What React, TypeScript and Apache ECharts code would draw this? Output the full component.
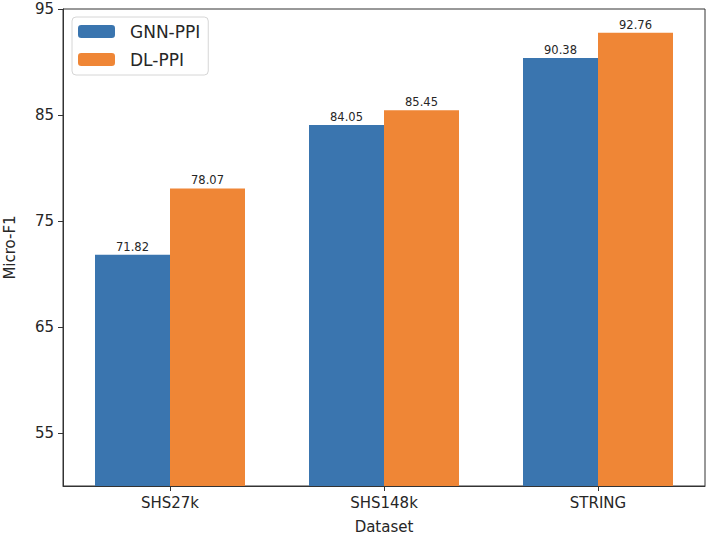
import React, { useEffect, useRef } from "react";
import * as echarts from "echarts";

const categories = ["SHS27k", "SHS148k", "STRING"];
const gnnPpi = [71.82, 84.05, 90.38];
const dlPpi = [78.07, 85.45, 92.76];
const yTicks = [55, 65, 75, 85, 95];

const FONT = "DejaVu Sans";
const TEXT = "#262626";

export default function App() {
  const ref = useRef<HTMLDivElement>(null);
  useEffect(() => {
    if (!ref.current) return;
    const chart = echarts.init(ref.current, undefined, { renderer: "svg" });
    const labelStyle = {
      show: true,
      position: "top" as const,
      distance: 2,
      fontFamily: FONT,
      fontSize: 11.5,
      color: TEXT,
      formatter: (p: any) => Number(p.value).toFixed(2),
    };
    chart.setOption({
      animation: false,
      backgroundColor: "#fff",
      textStyle: { fontFamily: FONT },
      grid: {
        left: 63,
        right: 3,
        top: 9,
        bottom: 53,
        outerBoundsMode: "none",
        containLabel: false,
        show: true,
        borderColor: "#333",
        borderWidth: 1,
        backgroundColor: "transparent",
      },
      legend: {
        left: 72,
        top: 17,
        orient: "vertical",
        itemWidth: 37,
        itemHeight: 13,
        itemGap: 11,
        padding: [6, 8, 7, 6],
        borderColor: "#d6d6d6",
        borderWidth: 1,
        borderRadius: 4,
        backgroundColor: "#fff",
        textStyle: { fontFamily: FONT, fontSize: 17, lineHeight: 17, color: TEXT, padding: [0, 0, 0, 10] },
        data: ["GNN-PPI", "DL-PPI"],
      },
      xAxis: {
        type: "category",
        data: categories,
        name: "Dataset",
        nameLocation: "middle",
        nameGap: 33,
        nameTextStyle: { fontFamily: FONT, fontSize: 15, color: TEXT },
        axisLine: { lineStyle: { color: "#333", width: 1 } },
        axisTick: { show: true, alignWithLabel: true, length: 5, lineStyle: { color: "#333" } },
        axisLabel: { fontFamily: FONT, fontSize: 15, color: TEXT, margin: 9 },
      },
      yAxis: {
        type: "value",
        min: 50,
        max: 95,
        name: "Micro-F1",
        nameLocation: "middle",
        nameGap: 46,
        nameTextStyle: { fontFamily: FONT, fontSize: 15, color: TEXT },
        splitLine: { show: false },
        axisLine: { show: true, lineStyle: { color: "#333", width: 1 } },
        axisTick: { show: true, length: 5, customValues: yTicks, lineStyle: { color: "#333" } },
        axisLabel: {
          fontFamily: FONT,
          fontSize: 15,
          color: TEXT,
          margin: 9,
          customValues: yTicks,
        },
      },
      series: [
        {
          name: "GNN-PPI",
          type: "bar",
          data: gnnPpi,
          barWidth: 75,
          barGap: "0%",
          itemStyle: { color: "#3a75af" },
          label: labelStyle,
        },
        {
          name: "DL-PPI",
          type: "bar",
          data: dlPpi,
          barWidth: 75,
          barGap: "0%",
          itemStyle: { color: "#ef8636" },
          label: labelStyle,
        },
      ],
    });
    return () => chart.dispose();
  }, []);
  return <div ref={ref} style={{ width: 708, height: 539, position: "fixed", left: 0, top: 0 }} />;
}
